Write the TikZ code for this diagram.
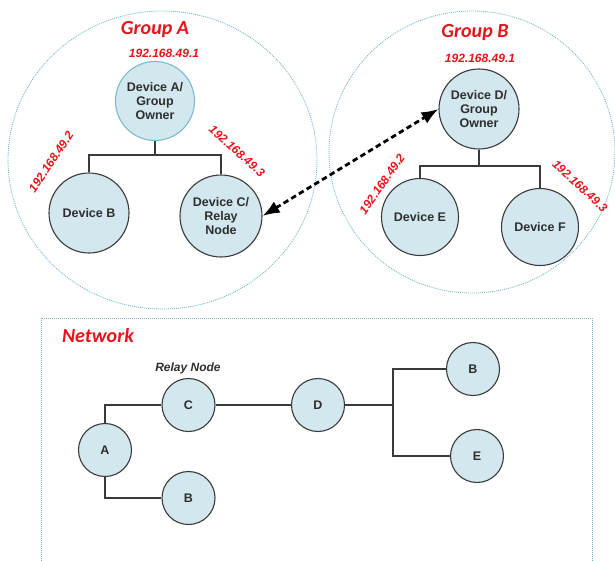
\documentclass[tikz,border=0pt]{standalone}
\usepackage{fontspec}
\setmainfont{Liberation Sans}
\newfontfamily\titlefont{Carlito}
\usetikzlibrary{arrows.meta}

\definecolor{nodefill}{HTML}{D3E7EF}
\definecolor{nodeedge}{HTML}{3A3A3A}
\definecolor{ownedge}{HTML}{7DB9CC}
\definecolor{dotblue}{HTML}{6DB5C7}
\definecolor{ipred}{HTML}{E8141B}
\definecolor{txtgray}{HTML}{2E2E2E}

\tikzset{
  dev/.style={circle, draw=nodeedge, line width=1.1pt, fill=nodefill,
    inner sep=0pt, minimum size=#1, align=center, text=txtgray,
    font=\fontsize{12.5}{14}\selectfont\bfseries},
  dev/.default=80pt,
  owner/.style={dev=#1, draw=ownedge},
  owner/.default=78pt,
  netnode/.style={circle, draw=nodeedge, line width=1.1pt, fill=nodefill,
    inner sep=0pt, minimum size=53pt, text=txtgray,
    font=\fontsize{12.5}{14}\selectfont\bfseries},
  tree/.style={draw=nodeedge, line width=1.2pt},
  boundary/.style={draw=dotblue, line width=0.8pt, dash pattern=on 1pt off 1pt},
  grouptitle/.style={text=ipred, font=\titlefont\fontsize{20}{22}\selectfont\bfseries\itshape},
  ip/.style={text=ipred, inner sep=0pt, font=\fontsize{12}{13}\selectfont\bfseries\itshape},
  link/.style={line width=2.8pt, dash pattern=on 5.5pt off 3.5pt,
    {Latex[length=17pt,width=13pt]}-{Latex[length=17pt,width=13pt]}},
}

\begin{document}
\begin{tikzpicture}[x=1pt, y=-1pt]
  \useasboundingbox (0,0) rectangle (615,560);
  \clip (0,0) rectangle (615,560);

  % group boundaries
  \draw[boundary] (162.5,160) ellipse [x radius=154.5, y radius=149];
  \draw[boundary] (472,152) ellipse [x radius=143, y radius=141];

  % Group A
  \node[grouptitle] (titleA) at (155,30) {Group A};
  \node[ip] (ipA1) at (164,53) {192.168.49.1};
  \node[owner=79pt] (devA) at (155,101) {Device A/\\Group\\Owner};
  \node[dev=80pt] (devB) at (89,213) {Device B};
  \node[dev=82pt] (devC) at (221,216) {Device C/\\Relay\\Node};
  \node[ip, rotate=56] (ipA2) at (51,162) {192.168.49.2};
  \node[ip, rotate=-42] (ipA3) at (237,151) {192.168.49.3};
  \coordinate (jA) at (155,155);
  \draw[tree] (devA.south) -- (jA);
  \draw[tree] (devB.north) |- (jA) -| (devC.north);

  % Group B
  \node[grouptitle] (titleB) at (475,33) {Group B};
  \node[ip] (ipB1) at (480,58) {192.168.49.1};
  \node[dev=80pt] (devD) at (479,109) {Device D/\\Group\\Owner};
  \node[dev=77pt] (devE) at (420,217) {Device E};
  \node[dev=77pt] (devF) at (540,227) {Device F};
  \node[ip, rotate=55] (ipB2) at (382,184) {192.168.49.2};
  \node[ip, rotate=-43] (ipB3) at (580,186) {192.168.49.3};
  \coordinate (jB) at (479,166);
  \draw[tree] (devD.south) -- (jB);
  \draw[tree] (devE.north) |- (jB) -| (devF.north);

  % link between the two groups
  \draw[link] (devC.east) -- (devD.west);

  % Network overview
  \draw[boundary] (41,318) rectangle (592,570);
  \node[grouptitle] (titleN) at (98,336) {Network};
  \node[text=txtgray, font=\fontsize{12}{13}\selectfont\bfseries\itshape] (relay) at (188,368) {Relay Node};
  \node[netnode] (nA) at (105,450) {A};
  \node[netnode] (nC) at (188.5,405) {C};
  \node[netnode] (nB) at (188.5,498) {B};
  \node[netnode] (nD) at (318,405) {D};
  \node[netnode] (nB2) at (473,369) {B};
  \node[netnode] (nE) at (477,456) {E};
  \coordinate (jN) at (393,405);
  \draw[tree] (nA.north) |- (nC.west);
  \draw[tree] (nA.south) |- (nB.west);
  \draw[tree] (nC.east) -- (nD.west);
  \draw[tree, line width=1.8pt] (nD.east) -- (jN);
  \draw[tree] (nB2.west) -| (jN) |- (nE.west);
\end{tikzpicture}
\end{document}
